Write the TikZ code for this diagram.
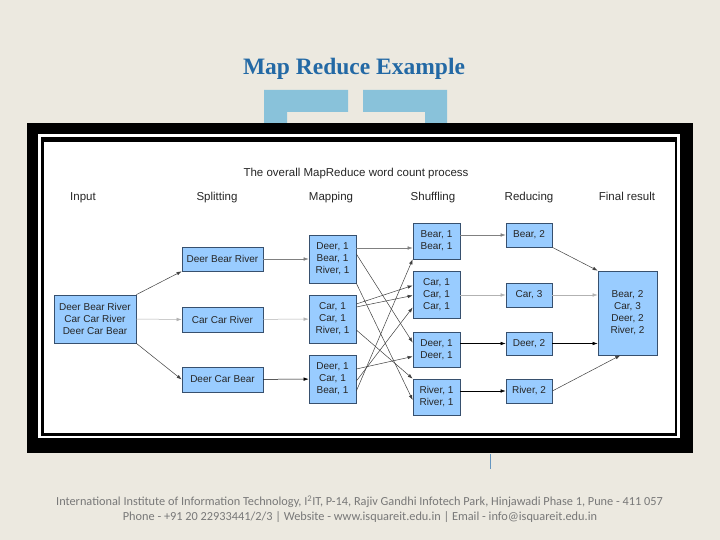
\documentclass[tikz,border=0pt]{standalone}
\usepackage{fontspec}
\setmainfont{Liberation Sans}
\newfontfamily\titlefont{Liberation Serif}
\newfontfamily\footfont{Carlito}
\usetikzlibrary{calc,arrows.meta}
\definecolor{slidebg}{RGB}{236,233,224}
\definecolor{titleblue}{RGB}{35,105,165}
\definecolor{bracketblue}{RGB}{137,194,218}
\definecolor{boxfill}{RGB}{153,204,255}
\definecolor{boxline}{RGB}{55,80,110}
\definecolor{footgray}{RGB}{120,120,120}

\begin{document}
\begin{tikzpicture}[x=1pt,y=-1pt,
  box/.style={draw=boxline,fill=boxfill,line width=0.7pt,inner sep=0pt,align=center,
    font=\fontsize{10}{12}\selectfont,text=black!85},
  head/.style={anchor=base,font=\fontsize{11.5}{13}\selectfont,text=black!85},
  flow/.style={draw=black!75,line width=0.5pt,-{Latex[length=5pt,width=3.5pt]}},
  faint/.style={flow,draw=black!30}]
\useasboundingbox (0,0) rectangle (720,540);
\fill[slidebg] (0,0) rectangle (720,540);
% slide title and brackets
\node[anchor=base,font=\titlefont\bfseries\fontsize{23.5}{26}\selectfont,text=titleblue] (title) at (354,75) {Map Reduce Example};
\fill[bracketblue] (264,90) -- (348,90) -- (348,112) -- (287,112) -- (287,123) -- (264,123) -- cycle;
\fill[bracketblue] (363,90) -- (447,90) -- (447,123) -- (425,123) -- (425,112) -- (363,112) -- cycle;
% frame
\fill[black] (27,123) rectangle (693,453);
\draw[white,line width=2.4pt] (39.3,135.5) rectangle (678.5,437);
\fill[white] (44,142) rectangle (675,433);
\draw[titleblue!70,line width=0.6pt] (490,454) -- (490,469);

\node[head] (cap) at (356,177) {The overall MapReduce word count process};
\node[head] (hin) at (83,201) {Input};
\node[head] (hsp) at (217,201) {Splitting};
\node[head] (hmp) at (331,201) {Mapping};
\node[head] (hsh) at (433,201) {Shuffling};
\node[head] (hrd) at (529,201) {Reducing};
\node[head] (hfn) at (627,201) {Final result};

\node[box,minimum width=82pt,minimum height=48pt] (inp) at (95,319) {Deer Bear River\\Car Car River\\Deer Car Bear};

\node[box,minimum width=81pt,minimum height=24pt] (s1) at (222.5,259) {Deer Bear River};
\node[box,minimum width=81pt,minimum height=25pt] (s2) at (222.5,319.5) {Car Car River};
\node[box,minimum width=81pt,minimum height=25pt] (s3) at (222.5,379.5) {Deer Car Bear};

\node[box,minimum width=47pt,minimum height=48pt] (m1) at (332.5,259) {Deer, 1\\Bear, 1\\River, 1};
\node[box,minimum width=47pt,minimum height=48pt] (m2) at (332.5,319) {Car, 1\\Car, 1\\River, 1};
\node[box,minimum width=47pt,minimum height=48pt] (m3) at (332.5,379) {Deer, 1\\Car, 1\\Bear, 1};

\node[box,minimum width=47pt,minimum height=36pt] (sh1) at (436.5,241) {Bear, 1\\Bear, 1};
\node[box,minimum width=47pt,minimum height=47pt] (sh2) at (436.5,294.5) {Car, 1\\Car, 1\\Car, 1};
\node[box,minimum width=47pt,minimum height=35pt] (sh3) at (436.5,349.5) {Deer, 1\\Deer, 1};
\node[box,minimum width=47pt,minimum height=36pt] (sh4) at (436.5,397) {River, 1\\River, 1};

\node[box,minimum width=46pt,minimum height=24pt] (r1) at (529,235) {Bear, 2};
\node[box,minimum width=46pt,minimum height=24pt] (r2) at (529,295) {Car, 3};
\node[box,minimum width=46pt,minimum height=23pt] (r3) at (529,343.5) {Deer, 2};
\node[box,minimum width=46pt,minimum height=24pt] (r4) at (529,391) {River, 2};

\node[box,minimum width=59pt,minimum height=84pt] (fin) at (627.5,313) {Bear, 2\\Car, 3\\Deer, 2\\River, 2};

% input -> splitting -> mapping
\draw[flow] (inp.north east) -- (s1.south west);
\draw[faint] (inp.east) -- (s2.west);
\draw[flow] (inp.south east) -- (s3.west);
\draw[flow,draw=black!50] (s1) -- (m1);
\draw[faint] (s2) -- (m2);
\draw[flow,draw=black] (s3) -- (m3);

% mapping -> shuffling
\draw[flow,draw=black!50] ($(m1.east)+(0,-11)$) -- ($(sh1.west)+(0,7)$);
\draw[flow] ($(m1.east)+(0,-5)$) -- ($(sh3.west)+(0,-7)$);
\draw[flow] (m1.south east) -- ($(sh4.west)+(0,3)$);
\draw[flow] ($(m2.east)+(0,-15)$) -- ($(sh2.west)+(0,-9)$);
\draw[flow] ($(m2.east)+(0,-12)$) -- ($(sh2.west)+(0,1)$);
\draw[flow] ($(m2.east)+(0,11)$) -- (sh4.north west);
\draw[flow] ($(m3.east)+(0,-10)$) -- ($(sh3.west)+(0,7)$);
\draw[flow] ($(m3.east)+(0,2)$) -- ($(sh2.west)+(0,13)$);
\draw[flow] ($(m3.east)+(0,12)$) -- (sh1.south west);

% shuffling -> reducing -> final
\draw[flow,draw=black!50] (sh1.east |- r1) -- (r1);
\draw[faint] (sh2.east |- r2) -- (r2);
\draw[flow,draw=black] (sh3.east |- r3) -- (r3);
\draw[flow,draw=black] (sh4.east |- r4) -- (r4);
\draw[flow] (r1.south east) -- (fin.north west);
\draw[faint] (r2) -- (fin.west |- r2);
\draw[flow,draw=black] (r3) -- (fin.west |- r3);
\draw[flow] (r4.east) -- ($(fin.south west)!0.38!(fin.south east)$);

% footer
\node[footgray,font=\footfont\fontsize{12.3}{14}\selectfont] (foot1) at (359.5,502) {International Institute of Information Technology, I\textsuperscript{2}IT, P-14, Rajiv Gandhi Infotech Park, Hinjawadi Phase 1, Pune - 411 057};
\node[footgray,font=\footfont\fontsize{12.3}{14}\selectfont] (foot2) at (360,517) {Phone - +91 20 22933441/2/3 | Website - www.isquareit.edu.in | Email - info@isquareit.edu.in};
\end{tikzpicture}
\end{document}
